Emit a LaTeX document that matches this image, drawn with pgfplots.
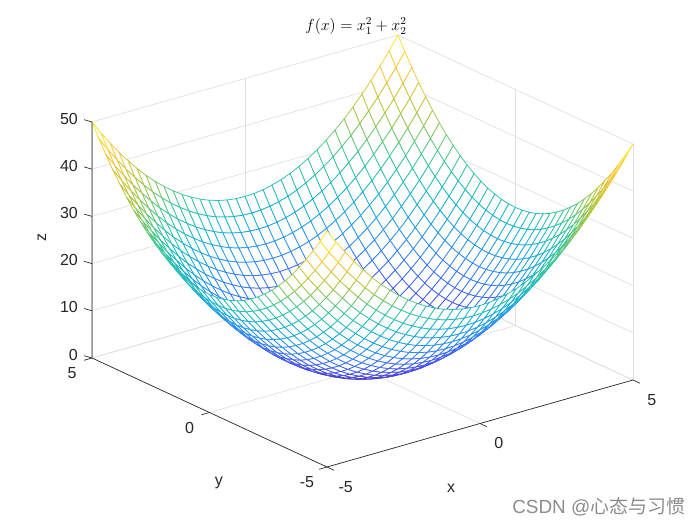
\documentclass[border=0pt]{standalone}
\usepackage{pgfplots}
\pgfplotsset{compat=1.18}
\usepackage{fontspec}
\setmainfont{Liberation Sans}
\newfontfamily\cjk{Noto Sans CJK SC}
\definecolor{axisgray}{RGB}{38,38,38}
\pgfplotsset{
  colormap={parula}{
    rgb=(0.2422,0.1504,0.6603) rgb=(0.2810,0.3228,0.9579) rgb=(0.1786,0.5289,0.9682)
    rgb=(0.0689,0.6948,0.8394) rgb=(0.2161,0.7843,0.5923) rgb=(0.6720,0.7793,0.2227)
    rgb=(0.9970,0.7659,0.2199) rgb=(0.9769,0.9839,0.0805)
  }
}
\begin{document}
\begin{tikzpicture}
\path[use as bounding box] (0,0) rectangle (525pt,393.75pt);
\begin{axis}[
  at={(271.875pt,117pt)}, anchor=origin,
  x={(22.95pt,6.525pt)}, y={(-17.625pt,8.175pt)}, z={(0pt,3.54pt)},
  xmin=-5, xmax=5, ymin=-5, ymax=5, zmin=0, zmax=50,
  xtick={-5,0,5}, ytick={-5,0,5}, ztick={0,10,20,30,40,50},
  clip=false,
  grid=major, grid style={gray!25, line width=0.5pt},
  axis line style={draw=none},
  tick align=outside, tick pos=left,
  tick style={draw=none},
  /pgf/number format/assume math mode=true,
  tick label style={font=\fontsize{12}{14}\selectfont, text=axisgray},
  xticklabel style={anchor=center, xshift=10.2pt, yshift=-13pt},
  yticklabel style={anchor=center, xshift=-10.9pt, yshift=-10.15pt},
  zticklabel style={anchor=east, xshift=-3.2pt, yshift=0.75pt},
  xlabel={x}, ylabel={y}, zlabel={z},
  every axis x label/.style={at={(axis cs:0,-5,0)}, anchor=center, xshift=-21.75pt, yshift=-48.4pt, font=\fontsize{12}{14}\selectfont, text=axisgray},
  every axis y label/.style={at={(axis cs:-5,0,0)}, anchor=center, xshift=7.1pt, yshift=-52.9pt, font=\fontsize{12}{14}\selectfont, text=axisgray},
  every axis z label/.style={at={(axis cs:-5,5,25)}, anchor=center, rotate=90, xshift=1.5pt, yshift=37.5pt, font=\fontsize{12}{14}\selectfont, text=axisgray},
  title={$f(x)=x_1^2+x_2^2$},
  every axis title/.style={at={(axis cs:5,5,50)}, anchor=center, xshift=-31.5pt, yshift=6.75pt, font=\fontsize{11.9}{13}\selectfont},
  colormap name=parula,
]
\addplot3[surf, shader=flat, fill=white, draw=mapped color, z buffer=sort, line width=0.55pt, mesh/cols=35, point meta=z] table {
-5 -5 50
-4.71 -5 47.15
-4.41 -5 44.46
-4.12 -5 41.96
-3.82 -5 39.62
-3.53 -5 37.46
-3.24 -5 35.47
-2.94 -5 33.65
-2.65 -5 32.01
-2.35 -5 30.54
-2.06 -5 29.24
-1.76 -5 28.11
-1.47 -5 27.16
-1.18 -5 26.38
-.88 -5 25.78
-.59 -5 25.35
-.29 -5 25.09
0 -5 25
.29 -5 25.09
.59 -5 25.35
.88 -5 25.78
1.18 -5 26.38
1.47 -5 27.16
1.76 -5 28.11
2.06 -5 29.24
2.35 -5 30.54
2.65 -5 32.01
2.94 -5 33.65
3.24 -5 35.47
3.53 -5 37.46
3.82 -5 39.62
4.12 -5 41.96
4.41 -5 44.46
4.71 -5 47.15
5 -5 50
-5 -4.71 47.15
-4.71 -4.71 44.30
-4.41 -4.71 41.61
-4.12 -4.71 39.11
-3.82 -4.71 36.77
-3.53 -4.71 34.61
-3.24 -4.71 32.62
-2.94 -4.71 30.80
-2.65 -4.71 29.16
-2.35 -4.71 27.69
-2.06 -4.71 26.39
-1.76 -4.71 25.26
-1.47 -4.71 24.31
-1.18 -4.71 23.53
-.88 -4.71 22.93
-.59 -4.71 22.50
-.29 -4.71 22.24
0 -4.71 22.15
.29 -4.71 22.24
.59 -4.71 22.50
.88 -4.71 22.93
1.18 -4.71 23.53
1.47 -4.71 24.31
1.76 -4.71 25.26
2.06 -4.71 26.39
2.35 -4.71 27.69
2.65 -4.71 29.16
2.94 -4.71 30.80
3.24 -4.71 32.62
3.53 -4.71 34.61
3.82 -4.71 36.77
4.12 -4.71 39.11
4.41 -4.71 41.61
4.71 -4.71 44.30
5 -4.71 47.15
-5 -4.41 44.46
-4.71 -4.41 41.61
-4.41 -4.41 38.92
-4.12 -4.41 36.42
-3.82 -4.41 34.08
-3.53 -4.41 31.92
-3.24 -4.41 29.93
-2.94 -4.41 28.11
-2.65 -4.41 26.47
-2.35 -4.41 25.00
-2.06 -4.41 23.70
-1.76 -4.41 22.57
-1.47 -4.41 21.62
-1.18 -4.41 20.84
-.88 -4.41 20.24
-.59 -4.41 19.81
-.29 -4.41 19.55
0 -4.41 19.46
.29 -4.41 19.55
.59 -4.41 19.81
.88 -4.41 20.24
1.18 -4.41 20.84
1.47 -4.41 21.62
1.76 -4.41 22.57
2.06 -4.41 23.70
2.35 -4.41 25.00
2.65 -4.41 26.47
2.94 -4.41 28.11
3.24 -4.41 29.93
3.53 -4.41 31.92
3.82 -4.41 34.08
4.12 -4.41 36.42
4.41 -4.41 38.92
4.71 -4.41 41.61
5 -4.41 44.46
-5 -4.12 41.96
-4.71 -4.12 39.11
-4.41 -4.12 36.42
-4.12 -4.12 33.92
-3.82 -4.12 31.58
-3.53 -4.12 29.42
-3.24 -4.12 27.43
-2.94 -4.12 25.61
-2.65 -4.12 23.97
-2.35 -4.12 22.50
-2.06 -4.12 21.20
-1.76 -4.12 20.07
-1.47 -4.12 19.12
-1.18 -4.12 18.34
-.88 -4.12 17.74
-.59 -4.12 17.31
-.29 -4.12 17.05
0 -4.12 16.96
.29 -4.12 17.05
.59 -4.12 17.31
.88 -4.12 17.74
1.18 -4.12 18.34
1.47 -4.12 19.12
1.76 -4.12 20.07
2.06 -4.12 21.20
2.35 -4.12 22.50
2.65 -4.12 23.97
2.94 -4.12 25.61
3.24 -4.12 27.43
3.53 -4.12 29.42
3.82 -4.12 31.58
4.12 -4.12 33.92
4.41 -4.12 36.42
4.71 -4.12 39.11
5 -4.12 41.96
-5 -3.82 39.62
-4.71 -3.82 36.77
-4.41 -3.82 34.08
-4.12 -3.82 31.58
-3.82 -3.82 29.24
-3.53 -3.82 27.08
-3.24 -3.82 25.09
-2.94 -3.82 23.27
-2.65 -3.82 21.63
-2.35 -3.82 20.16
-2.06 -3.82 18.86
-1.76 -3.82 17.73
-1.47 -3.82 16.78
-1.18 -3.82 16.00
-.88 -3.82 15.40
-.59 -3.82 14.97
-.29 -3.82 14.71
0 -3.82 14.62
.29 -3.82 14.71
.59 -3.82 14.97
.88 -3.82 15.40
1.18 -3.82 16.00
1.47 -3.82 16.78
1.76 -3.82 17.73
2.06 -3.82 18.86
2.35 -3.82 20.16
2.65 -3.82 21.63
2.94 -3.82 23.27
3.24 -3.82 25.09
3.53 -3.82 27.08
3.82 -3.82 29.24
4.12 -3.82 31.58
4.41 -3.82 34.08
4.71 -3.82 36.77
5 -3.82 39.62
-5 -3.53 37.46
-4.71 -3.53 34.61
-4.41 -3.53 31.92
-4.12 -3.53 29.42
-3.82 -3.53 27.08
-3.53 -3.53 24.92
-3.24 -3.53 22.93
-2.94 -3.53 21.11
-2.65 -3.53 19.47
-2.35 -3.53 18.00
-2.06 -3.53 16.70
-1.76 -3.53 15.57
-1.47 -3.53 14.62
-1.18 -3.53 13.84
-.88 -3.53 13.24
-.59 -3.53 12.81
-.29 -3.53 12.55
0 -3.53 12.46
.29 -3.53 12.55
.59 -3.53 12.81
.88 -3.53 13.24
1.18 -3.53 13.84
1.47 -3.53 14.62
1.76 -3.53 15.57
2.06 -3.53 16.70
2.35 -3.53 18.00
2.65 -3.53 19.47
2.94 -3.53 21.11
3.24 -3.53 22.93
3.53 -3.53 24.92
3.82 -3.53 27.08
4.12 -3.53 29.42
4.41 -3.53 31.92
4.71 -3.53 34.61
5 -3.53 37.46
-5 -3.24 35.47
-4.71 -3.24 32.62
-4.41 -3.24 29.93
-4.12 -3.24 27.43
-3.82 -3.24 25.09
-3.53 -3.24 22.93
-3.24 -3.24 20.94
-2.94 -3.24 19.12
-2.65 -3.24 17.48
-2.35 -3.24 16.01
-2.06 -3.24 14.71
-1.76 -3.24 13.58
-1.47 -3.24 12.63
-1.18 -3.24 11.85
-.88 -3.24 11.25
-.59 -3.24 10.82
-.29 -3.24 10.56
0 -3.24 10.47
.29 -3.24 10.56
.59 -3.24 10.82
.88 -3.24 11.25
1.18 -3.24 11.85
1.47 -3.24 12.63
1.76 -3.24 13.58
2.06 -3.24 14.71
2.35 -3.24 16.01
2.65 -3.24 17.48
2.94 -3.24 19.12
3.24 -3.24 20.94
3.53 -3.24 22.93
3.82 -3.24 25.09
4.12 -3.24 27.43
4.41 -3.24 29.93
4.71 -3.24 32.62
5 -3.24 35.47
-5 -2.94 33.65
-4.71 -2.94 30.80
-4.41 -2.94 28.11
-4.12 -2.94 25.61
-3.82 -2.94 23.27
-3.53 -2.94 21.11
-3.24 -2.94 19.12
-2.94 -2.94 17.30
-2.65 -2.94 15.66
-2.35 -2.94 14.19
-2.06 -2.94 12.89
-1.76 -2.94 11.76
-1.47 -2.94 10.81
-1.18 -2.94 10.03
-.88 -2.94 9.43
-.59 -2.94 9.00
-.29 -2.94 8.74
0 -2.94 8.65
.29 -2.94 8.74
.59 -2.94 9.00
.88 -2.94 9.43
1.18 -2.94 10.03
1.47 -2.94 10.81
1.76 -2.94 11.76
2.06 -2.94 12.89
2.35 -2.94 14.19
2.65 -2.94 15.66
2.94 -2.94 17.30
3.24 -2.94 19.12
3.53 -2.94 21.11
3.82 -2.94 23.27
4.12 -2.94 25.61
4.41 -2.94 28.11
4.71 -2.94 30.80
5 -2.94 33.65
-5 -2.65 32.01
-4.71 -2.65 29.16
-4.41 -2.65 26.47
-4.12 -2.65 23.97
-3.82 -2.65 21.63
-3.53 -2.65 19.47
-3.24 -2.65 17.48
-2.94 -2.65 15.66
-2.65 -2.65 14.02
-2.35 -2.65 12.55
-2.06 -2.65 11.25
-1.76 -2.65 10.12
-1.47 -2.65 9.17
-1.18 -2.65 8.39
-.88 -2.65 7.79
-.59 -2.65 7.36
-.29 -2.65 7.10
0 -2.65 7.01
.29 -2.65 7.10
.59 -2.65 7.36
.88 -2.65 7.79
1.18 -2.65 8.39
1.47 -2.65 9.17
1.76 -2.65 10.12
2.06 -2.65 11.25
2.35 -2.65 12.55
2.65 -2.65 14.02
2.94 -2.65 15.66
3.24 -2.65 17.48
3.53 -2.65 19.47
3.82 -2.65 21.63
4.12 -2.65 23.97
4.41 -2.65 26.47
4.71 -2.65 29.16
5 -2.65 32.01
-5 -2.35 30.54
-4.71 -2.35 27.69
-4.41 -2.35 25.00
-4.12 -2.35 22.50
-3.82 -2.35 20.16
-3.53 -2.35 18.00
-3.24 -2.35 16.01
-2.94 -2.35 14.19
-2.65 -2.35 12.55
-2.35 -2.35 11.08
-2.06 -2.35 9.78
-1.76 -2.35 8.65
-1.47 -2.35 7.70
-1.18 -2.35 6.92
-.88 -2.35 6.32
-.59 -2.35 5.89
-.29 -2.35 5.63
0 -2.35 5.54
.29 -2.35 5.63
.59 -2.35 5.89
.88 -2.35 6.32
1.18 -2.35 6.92
1.47 -2.35 7.70
1.76 -2.35 8.65
2.06 -2.35 9.78
2.35 -2.35 11.08
2.65 -2.35 12.55
2.94 -2.35 14.19
3.24 -2.35 16.01
3.53 -2.35 18.00
3.82 -2.35 20.16
4.12 -2.35 22.50
4.41 -2.35 25.00
4.71 -2.35 27.69
5 -2.35 30.54
-5 -2.06 29.24
-4.71 -2.06 26.39
-4.41 -2.06 23.70
-4.12 -2.06 21.20
-3.82 -2.06 18.86
-3.53 -2.06 16.70
-3.24 -2.06 14.71
-2.94 -2.06 12.89
-2.65 -2.06 11.25
-2.35 -2.06 9.78
-2.06 -2.06 8.48
-1.76 -2.06 7.35
-1.47 -2.06 6.40
-1.18 -2.06 5.62
-.88 -2.06 5.02
-.59 -2.06 4.59
-.29 -2.06 4.33
0 -2.06 4.24
.29 -2.06 4.33
.59 -2.06 4.59
.88 -2.06 5.02
1.18 -2.06 5.62
1.47 -2.06 6.40
1.76 -2.06 7.35
2.06 -2.06 8.48
2.35 -2.06 9.78
2.65 -2.06 11.25
2.94 -2.06 12.89
3.24 -2.06 14.71
3.53 -2.06 16.70
3.82 -2.06 18.86
4.12 -2.06 21.20
4.41 -2.06 23.70
4.71 -2.06 26.39
5 -2.06 29.24
-5 -1.76 28.11
-4.71 -1.76 25.26
-4.41 -1.76 22.57
-4.12 -1.76 20.07
-3.82 -1.76 17.73
-3.53 -1.76 15.57
-3.24 -1.76 13.58
-2.94 -1.76 11.76
-2.65 -1.76 10.12
-2.35 -1.76 8.65
-2.06 -1.76 7.35
-1.76 -1.76 6.22
-1.47 -1.76 5.27
-1.18 -1.76 4.49
-.88 -1.76 3.89
-.59 -1.76 3.46
-.29 -1.76 3.20
0 -1.76 3.11
.29 -1.76 3.20
.59 -1.76 3.46
.88 -1.76 3.89
1.18 -1.76 4.49
1.47 -1.76 5.27
1.76 -1.76 6.22
2.06 -1.76 7.35
2.35 -1.76 8.65
2.65 -1.76 10.12
2.94 -1.76 11.76
3.24 -1.76 13.58
3.53 -1.76 15.57
3.82 -1.76 17.73
4.12 -1.76 20.07
4.41 -1.76 22.57
4.71 -1.76 25.26
5 -1.76 28.11
-5 -1.47 27.16
-4.71 -1.47 24.31
-4.41 -1.47 21.62
-4.12 -1.47 19.12
-3.82 -1.47 16.78
-3.53 -1.47 14.62
-3.24 -1.47 12.63
-2.94 -1.47 10.81
-2.65 -1.47 9.17
-2.35 -1.47 7.70
-2.06 -1.47 6.40
-1.76 -1.47 5.27
-1.47 -1.47 4.32
-1.18 -1.47 3.54
-.88 -1.47 2.94
-.59 -1.47 2.51
-.29 -1.47 2.25
0 -1.47 2.16
.29 -1.47 2.25
.59 -1.47 2.51
.88 -1.47 2.94
1.18 -1.47 3.54
1.47 -1.47 4.32
1.76 -1.47 5.27
2.06 -1.47 6.40
2.35 -1.47 7.70
2.65 -1.47 9.17
2.94 -1.47 10.81
3.24 -1.47 12.63
3.53 -1.47 14.62
3.82 -1.47 16.78
4.12 -1.47 19.12
4.41 -1.47 21.62
4.71 -1.47 24.31
5 -1.47 27.16
-5 -1.18 26.38
-4.71 -1.18 23.53
-4.41 -1.18 20.84
-4.12 -1.18 18.34
-3.82 -1.18 16.00
-3.53 -1.18 13.84
-3.24 -1.18 11.85
-2.94 -1.18 10.03
-2.65 -1.18 8.39
-2.35 -1.18 6.92
-2.06 -1.18 5.62
-1.76 -1.18 4.49
-1.47 -1.18 3.54
-1.18 -1.18 2.76
-.88 -1.18 2.16
-.59 -1.18 1.73
-.29 -1.18 1.47
0 -1.18 1.38
.29 -1.18 1.47
.59 -1.18 1.73
.88 -1.18 2.16
1.18 -1.18 2.76
1.47 -1.18 3.54
1.76 -1.18 4.49
2.06 -1.18 5.62
2.35 -1.18 6.92
2.65 -1.18 8.39
2.94 -1.18 10.03
3.24 -1.18 11.85
3.53 -1.18 13.84
3.82 -1.18 16.00
4.12 -1.18 18.34
4.41 -1.18 20.84
4.71 -1.18 23.53
5 -1.18 26.38
-5 -.88 25.78
-4.71 -.88 22.93
-4.41 -.88 20.24
-4.12 -.88 17.74
-3.82 -.88 15.40
-3.53 -.88 13.24
-3.24 -.88 11.25
-2.94 -.88 9.43
-2.65 -.88 7.79
-2.35 -.88 6.32
-2.06 -.88 5.02
-1.76 -.88 3.89
-1.47 -.88 2.94
-1.18 -.88 2.16
-.88 -.88 1.56
-.59 -.88 1.13
-.29 -.88 .87
0 -.88 .78
.29 -.88 .87
.59 -.88 1.13
.88 -.88 1.56
1.18 -.88 2.16
1.47 -.88 2.94
1.76 -.88 3.89
2.06 -.88 5.02
2.35 -.88 6.32
2.65 -.88 7.79
2.94 -.88 9.43
3.24 -.88 11.25
3.53 -.88 13.24
3.82 -.88 15.40
4.12 -.88 17.74
4.41 -.88 20.24
4.71 -.88 22.93
5 -.88 25.78
-5 -.59 25.35
-4.71 -.59 22.50
-4.41 -.59 19.81
-4.12 -.59 17.31
-3.82 -.59 14.97
-3.53 -.59 12.81
-3.24 -.59 10.82
-2.94 -.59 9.00
-2.65 -.59 7.36
-2.35 -.59 5.89
-2.06 -.59 4.59
-1.76 -.59 3.46
-1.47 -.59 2.51
-1.18 -.59 1.73
-.88 -.59 1.13
-.59 -.59 .70
-.29 -.59 .44
0 -.59 .35
.29 -.59 .44
.59 -.59 .70
.88 -.59 1.13
1.18 -.59 1.73
1.47 -.59 2.51
1.76 -.59 3.46
2.06 -.59 4.59
2.35 -.59 5.89
2.65 -.59 7.36
2.94 -.59 9.00
3.24 -.59 10.82
3.53 -.59 12.81
3.82 -.59 14.97
4.12 -.59 17.31
4.41 -.59 19.81
4.71 -.59 22.50
5 -.59 25.35
-5 -.29 25.09
-4.71 -.29 22.24
-4.41 -.29 19.55
-4.12 -.29 17.05
-3.82 -.29 14.71
-3.53 -.29 12.55
-3.24 -.29 10.56
-2.94 -.29 8.74
-2.65 -.29 7.10
-2.35 -.29 5.63
-2.06 -.29 4.33
-1.76 -.29 3.20
-1.47 -.29 2.25
-1.18 -.29 1.47
-.88 -.29 .87
-.59 -.29 .44
-.29 -.29 .18
0 -.29 .09
.29 -.29 .18
.59 -.29 .44
.88 -.29 .87
1.18 -.29 1.47
1.47 -.29 2.25
1.76 -.29 3.20
2.06 -.29 4.33
2.35 -.29 5.63
2.65 -.29 7.10
2.94 -.29 8.74
3.24 -.29 10.56
3.53 -.29 12.55
3.82 -.29 14.71
4.12 -.29 17.05
4.41 -.29 19.55
4.71 -.29 22.24
5 -.29 25.09
-5 0 25
-4.71 0 22.15
-4.41 0 19.46
-4.12 0 16.96
-3.82 0 14.62
-3.53 0 12.46
-3.24 0 10.47
-2.94 0 8.65
-2.65 0 7.01
-2.35 0 5.54
-2.06 0 4.24
-1.76 0 3.11
-1.47 0 2.16
-1.18 0 1.38
-.88 0 .78
-.59 0 .35
-.29 0 .09
0 0 0
.29 0 .09
.59 0 .35
.88 0 .78
1.18 0 1.38
1.47 0 2.16
1.76 0 3.11
2.06 0 4.24
2.35 0 5.54
2.65 0 7.01
2.94 0 8.65
3.24 0 10.47
3.53 0 12.46
3.82 0 14.62
4.12 0 16.96
4.41 0 19.46
4.71 0 22.15
5 0 25
-5 .29 25.09
-4.71 .29 22.24
-4.41 .29 19.55
-4.12 .29 17.05
-3.82 .29 14.71
-3.53 .29 12.55
-3.24 .29 10.56
-2.94 .29 8.74
-2.65 .29 7.10
-2.35 .29 5.63
-2.06 .29 4.33
-1.76 .29 3.20
-1.47 .29 2.25
-1.18 .29 1.47
-.88 .29 .87
-.59 .29 .44
-.29 .29 .18
0 .29 .09
.29 .29 .18
.59 .29 .44
.88 .29 .87
1.18 .29 1.47
1.47 .29 2.25
1.76 .29 3.20
2.06 .29 4.33
2.35 .29 5.63
2.65 .29 7.10
2.94 .29 8.74
3.24 .29 10.56
3.53 .29 12.55
3.82 .29 14.71
4.12 .29 17.05
4.41 .29 19.55
4.71 .29 22.24
5 .29 25.09
-5 .59 25.35
-4.71 .59 22.50
-4.41 .59 19.81
-4.12 .59 17.31
-3.82 .59 14.97
-3.53 .59 12.81
-3.24 .59 10.82
-2.94 .59 9.00
-2.65 .59 7.36
-2.35 .59 5.89
-2.06 .59 4.59
-1.76 .59 3.46
-1.47 .59 2.51
-1.18 .59 1.73
-.88 .59 1.13
-.59 .59 .70
-.29 .59 .44
0 .59 .35
.29 .59 .44
.59 .59 .70
.88 .59 1.13
1.18 .59 1.73
1.47 .59 2.51
1.76 .59 3.46
2.06 .59 4.59
2.35 .59 5.89
2.65 .59 7.36
2.94 .59 9.00
3.24 .59 10.82
3.53 .59 12.81
3.82 .59 14.97
4.12 .59 17.31
4.41 .59 19.81
4.71 .59 22.50
5 .59 25.35
-5 .88 25.78
-4.71 .88 22.93
-4.41 .88 20.24
-4.12 .88 17.74
-3.82 .88 15.40
-3.53 .88 13.24
-3.24 .88 11.25
-2.94 .88 9.43
-2.65 .88 7.79
-2.35 .88 6.32
-2.06 .88 5.02
-1.76 .88 3.89
-1.47 .88 2.94
-1.18 .88 2.16
-.88 .88 1.56
-.59 .88 1.13
-.29 .88 .87
0 .88 .78
.29 .88 .87
.59 .88 1.13
.88 .88 1.56
1.18 .88 2.16
1.47 .88 2.94
1.76 .88 3.89
2.06 .88 5.02
2.35 .88 6.32
2.65 .88 7.79
2.94 .88 9.43
3.24 .88 11.25
3.53 .88 13.24
3.82 .88 15.40
4.12 .88 17.74
4.41 .88 20.24
4.71 .88 22.93
5 .88 25.78
-5 1.18 26.38
-4.71 1.18 23.53
-4.41 1.18 20.84
-4.12 1.18 18.34
-3.82 1.18 16.00
-3.53 1.18 13.84
-3.24 1.18 11.85
-2.94 1.18 10.03
-2.65 1.18 8.39
-2.35 1.18 6.92
-2.06 1.18 5.62
-1.76 1.18 4.49
-1.47 1.18 3.54
-1.18 1.18 2.76
-.88 1.18 2.16
-.59 1.18 1.73
-.29 1.18 1.47
0 1.18 1.38
.29 1.18 1.47
.59 1.18 1.73
.88 1.18 2.16
1.18 1.18 2.76
1.47 1.18 3.54
1.76 1.18 4.49
2.06 1.18 5.62
2.35 1.18 6.92
2.65 1.18 8.39
2.94 1.18 10.03
3.24 1.18 11.85
3.53 1.18 13.84
3.82 1.18 16.00
4.12 1.18 18.34
4.41 1.18 20.84
4.71 1.18 23.53
5 1.18 26.38
-5 1.47 27.16
-4.71 1.47 24.31
-4.41 1.47 21.62
-4.12 1.47 19.12
-3.82 1.47 16.78
-3.53 1.47 14.62
-3.24 1.47 12.63
-2.94 1.47 10.81
-2.65 1.47 9.17
-2.35 1.47 7.70
-2.06 1.47 6.40
-1.76 1.47 5.27
-1.47 1.47 4.32
-1.18 1.47 3.54
-.88 1.47 2.94
-.59 1.47 2.51
-.29 1.47 2.25
0 1.47 2.16
.29 1.47 2.25
.59 1.47 2.51
.88 1.47 2.94
1.18 1.47 3.54
1.47 1.47 4.32
1.76 1.47 5.27
2.06 1.47 6.40
2.35 1.47 7.70
2.65 1.47 9.17
2.94 1.47 10.81
3.24 1.47 12.63
3.53 1.47 14.62
3.82 1.47 16.78
4.12 1.47 19.12
4.41 1.47 21.62
4.71 1.47 24.31
5 1.47 27.16
-5 1.76 28.11
-4.71 1.76 25.26
-4.41 1.76 22.57
-4.12 1.76 20.07
-3.82 1.76 17.73
-3.53 1.76 15.57
-3.24 1.76 13.58
-2.94 1.76 11.76
-2.65 1.76 10.12
-2.35 1.76 8.65
-2.06 1.76 7.35
-1.76 1.76 6.22
-1.47 1.76 5.27
-1.18 1.76 4.49
-.88 1.76 3.89
-.59 1.76 3.46
-.29 1.76 3.20
0 1.76 3.11
.29 1.76 3.20
.59 1.76 3.46
.88 1.76 3.89
1.18 1.76 4.49
1.47 1.76 5.27
1.76 1.76 6.22
2.06 1.76 7.35
2.35 1.76 8.65
2.65 1.76 10.12
2.94 1.76 11.76
3.24 1.76 13.58
3.53 1.76 15.57
3.82 1.76 17.73
4.12 1.76 20.07
4.41 1.76 22.57
4.71 1.76 25.26
5 1.76 28.11
-5 2.06 29.24
-4.71 2.06 26.39
-4.41 2.06 23.70
-4.12 2.06 21.20
-3.82 2.06 18.86
-3.53 2.06 16.70
-3.24 2.06 14.71
-2.94 2.06 12.89
-2.65 2.06 11.25
-2.35 2.06 9.78
-2.06 2.06 8.48
-1.76 2.06 7.35
-1.47 2.06 6.40
-1.18 2.06 5.62
-.88 2.06 5.02
-.59 2.06 4.59
-.29 2.06 4.33
0 2.06 4.24
.29 2.06 4.33
.59 2.06 4.59
.88 2.06 5.02
1.18 2.06 5.62
1.47 2.06 6.40
1.76 2.06 7.35
2.06 2.06 8.48
2.35 2.06 9.78
2.65 2.06 11.25
2.94 2.06 12.89
3.24 2.06 14.71
3.53 2.06 16.70
3.82 2.06 18.86
4.12 2.06 21.20
4.41 2.06 23.70
4.71 2.06 26.39
5 2.06 29.24
-5 2.35 30.54
-4.71 2.35 27.69
-4.41 2.35 25.00
-4.12 2.35 22.50
-3.82 2.35 20.16
-3.53 2.35 18.00
-3.24 2.35 16.01
-2.94 2.35 14.19
-2.65 2.35 12.55
-2.35 2.35 11.08
-2.06 2.35 9.78
-1.76 2.35 8.65
-1.47 2.35 7.70
-1.18 2.35 6.92
-.88 2.35 6.32
-.59 2.35 5.89
-.29 2.35 5.63
0 2.35 5.54
.29 2.35 5.63
.59 2.35 5.89
.88 2.35 6.32
1.18 2.35 6.92
1.47 2.35 7.70
1.76 2.35 8.65
2.06 2.35 9.78
2.35 2.35 11.08
2.65 2.35 12.55
2.94 2.35 14.19
3.24 2.35 16.01
3.53 2.35 18.00
3.82 2.35 20.16
4.12 2.35 22.50
4.41 2.35 25.00
4.71 2.35 27.69
5 2.35 30.54
-5 2.65 32.01
-4.71 2.65 29.16
-4.41 2.65 26.47
-4.12 2.65 23.97
-3.82 2.65 21.63
-3.53 2.65 19.47
-3.24 2.65 17.48
-2.94 2.65 15.66
-2.65 2.65 14.02
-2.35 2.65 12.55
-2.06 2.65 11.25
-1.76 2.65 10.12
-1.47 2.65 9.17
-1.18 2.65 8.39
-.88 2.65 7.79
-.59 2.65 7.36
-.29 2.65 7.10
0 2.65 7.01
.29 2.65 7.10
.59 2.65 7.36
.88 2.65 7.79
1.18 2.65 8.39
1.47 2.65 9.17
1.76 2.65 10.12
2.06 2.65 11.25
2.35 2.65 12.55
2.65 2.65 14.02
2.94 2.65 15.66
3.24 2.65 17.48
3.53 2.65 19.47
3.82 2.65 21.63
4.12 2.65 23.97
4.41 2.65 26.47
4.71 2.65 29.16
5 2.65 32.01
-5 2.94 33.65
-4.71 2.94 30.80
-4.41 2.94 28.11
-4.12 2.94 25.61
-3.82 2.94 23.27
-3.53 2.94 21.11
-3.24 2.94 19.12
-2.94 2.94 17.30
-2.65 2.94 15.66
-2.35 2.94 14.19
-2.06 2.94 12.89
-1.76 2.94 11.76
-1.47 2.94 10.81
-1.18 2.94 10.03
-.88 2.94 9.43
-.59 2.94 9.00
-.29 2.94 8.74
0 2.94 8.65
.29 2.94 8.74
.59 2.94 9.00
.88 2.94 9.43
1.18 2.94 10.03
1.47 2.94 10.81
1.76 2.94 11.76
2.06 2.94 12.89
2.35 2.94 14.19
2.65 2.94 15.66
2.94 2.94 17.30
3.24 2.94 19.12
3.53 2.94 21.11
3.82 2.94 23.27
4.12 2.94 25.61
4.41 2.94 28.11
4.71 2.94 30.80
5 2.94 33.65
-5 3.24 35.47
-4.71 3.24 32.62
-4.41 3.24 29.93
-4.12 3.24 27.43
-3.82 3.24 25.09
-3.53 3.24 22.93
-3.24 3.24 20.94
-2.94 3.24 19.12
-2.65 3.24 17.48
-2.35 3.24 16.01
-2.06 3.24 14.71
-1.76 3.24 13.58
-1.47 3.24 12.63
-1.18 3.24 11.85
-.88 3.24 11.25
-.59 3.24 10.82
-.29 3.24 10.56
0 3.24 10.47
.29 3.24 10.56
.59 3.24 10.82
.88 3.24 11.25
1.18 3.24 11.85
1.47 3.24 12.63
1.76 3.24 13.58
2.06 3.24 14.71
2.35 3.24 16.01
2.65 3.24 17.48
2.94 3.24 19.12
3.24 3.24 20.94
3.53 3.24 22.93
3.82 3.24 25.09
4.12 3.24 27.43
4.41 3.24 29.93
4.71 3.24 32.62
5 3.24 35.47
-5 3.53 37.46
-4.71 3.53 34.61
-4.41 3.53 31.92
-4.12 3.53 29.42
-3.82 3.53 27.08
-3.53 3.53 24.92
-3.24 3.53 22.93
-2.94 3.53 21.11
-2.65 3.53 19.47
-2.35 3.53 18.00
-2.06 3.53 16.70
-1.76 3.53 15.57
-1.47 3.53 14.62
-1.18 3.53 13.84
-.88 3.53 13.24
-.59 3.53 12.81
-.29 3.53 12.55
0 3.53 12.46
.29 3.53 12.55
.59 3.53 12.81
.88 3.53 13.24
1.18 3.53 13.84
1.47 3.53 14.62
1.76 3.53 15.57
2.06 3.53 16.70
2.35 3.53 18.00
2.65 3.53 19.47
2.94 3.53 21.11
3.24 3.53 22.93
3.53 3.53 24.92
3.82 3.53 27.08
4.12 3.53 29.42
4.41 3.53 31.92
4.71 3.53 34.61
5 3.53 37.46
-5 3.82 39.62
-4.71 3.82 36.77
-4.41 3.82 34.08
-4.12 3.82 31.58
-3.82 3.82 29.24
-3.53 3.82 27.08
-3.24 3.82 25.09
-2.94 3.82 23.27
-2.65 3.82 21.63
-2.35 3.82 20.16
-2.06 3.82 18.86
-1.76 3.82 17.73
-1.47 3.82 16.78
-1.18 3.82 16.00
-.88 3.82 15.40
-.59 3.82 14.97
-.29 3.82 14.71
0 3.82 14.62
.29 3.82 14.71
.59 3.82 14.97
.88 3.82 15.40
1.18 3.82 16.00
1.47 3.82 16.78
1.76 3.82 17.73
2.06 3.82 18.86
2.35 3.82 20.16
2.65 3.82 21.63
2.94 3.82 23.27
3.24 3.82 25.09
3.53 3.82 27.08
3.82 3.82 29.24
4.12 3.82 31.58
4.41 3.82 34.08
4.71 3.82 36.77
5 3.82 39.62
-5 4.12 41.96
-4.71 4.12 39.11
-4.41 4.12 36.42
-4.12 4.12 33.92
-3.82 4.12 31.58
-3.53 4.12 29.42
-3.24 4.12 27.43
-2.94 4.12 25.61
-2.65 4.12 23.97
-2.35 4.12 22.50
-2.06 4.12 21.20
-1.76 4.12 20.07
-1.47 4.12 19.12
-1.18 4.12 18.34
-.88 4.12 17.74
-.59 4.12 17.31
-.29 4.12 17.05
0 4.12 16.96
.29 4.12 17.05
.59 4.12 17.31
.88 4.12 17.74
1.18 4.12 18.34
1.47 4.12 19.12
1.76 4.12 20.07
2.06 4.12 21.20
2.35 4.12 22.50
2.65 4.12 23.97
2.94 4.12 25.61
3.24 4.12 27.43
3.53 4.12 29.42
3.82 4.12 31.58
4.12 4.12 33.92
4.41 4.12 36.42
4.71 4.12 39.11
5 4.12 41.96
-5 4.41 44.46
-4.71 4.41 41.61
-4.41 4.41 38.92
-4.12 4.41 36.42
-3.82 4.41 34.08
-3.53 4.41 31.92
-3.24 4.41 29.93
-2.94 4.41 28.11
-2.65 4.41 26.47
-2.35 4.41 25.00
-2.06 4.41 23.70
-1.76 4.41 22.57
-1.47 4.41 21.62
-1.18 4.41 20.84
-.88 4.41 20.24
-.59 4.41 19.81
-.29 4.41 19.55
0 4.41 19.46
.29 4.41 19.55
.59 4.41 19.81
.88 4.41 20.24
1.18 4.41 20.84
1.47 4.41 21.62
1.76 4.41 22.57
2.06 4.41 23.70
2.35 4.41 25.00
2.65 4.41 26.47
2.94 4.41 28.11
3.24 4.41 29.93
3.53 4.41 31.92
3.82 4.41 34.08
4.12 4.41 36.42
4.41 4.41 38.92
4.71 4.41 41.61
5 4.41 44.46
-5 4.71 47.15
-4.71 4.71 44.30
-4.41 4.71 41.61
-4.12 4.71 39.11
-3.82 4.71 36.77
-3.53 4.71 34.61
-3.24 4.71 32.62
-2.94 4.71 30.80
-2.65 4.71 29.16
-2.35 4.71 27.69
-2.06 4.71 26.39
-1.76 4.71 25.26
-1.47 4.71 24.31
-1.18 4.71 23.53
-.88 4.71 22.93
-.59 4.71 22.50
-.29 4.71 22.24
0 4.71 22.15
.29 4.71 22.24
.59 4.71 22.50
.88 4.71 22.93
1.18 4.71 23.53
1.47 4.71 24.31
1.76 4.71 25.26
2.06 4.71 26.39
2.35 4.71 27.69
2.65 4.71 29.16
2.94 4.71 30.80
3.24 4.71 32.62
3.53 4.71 34.61
3.82 4.71 36.77
4.12 4.71 39.11
4.41 4.71 41.61
4.71 4.71 44.30
5 4.71 47.15
-5 5 50
-4.71 5 47.15
-4.41 5 44.46
-4.12 5 41.96
-3.82 5 39.62
-3.53 5 37.46
-3.24 5 35.47
-2.94 5 33.65
-2.65 5 32.01
-2.35 5 30.54
-2.06 5 29.24
-1.76 5 28.11
-1.47 5 27.16
-1.18 5 26.38
-.88 5 25.78
-.59 5 25.35
-.29 5 25.09
0 5 25
.29 5 25.09
.59 5 25.35
.88 5 25.78
1.18 5 26.38
1.47 5 27.16
1.76 5 28.11
2.06 5 29.24
2.35 5 30.54
2.65 5 32.01
2.94 5 33.65
3.24 5 35.47
3.53 5 37.46
3.82 5 39.62
4.12 5 41.96
4.41 5 44.46
4.71 5 47.15
5 5 50
};
\draw[axisgray, line width=0.5pt] (axis cs:-5,-5,0) -- (axis cs:5,-5,0);
\draw[axisgray, line width=0.5pt] (axis cs:-5,-5,0) -- (axis cs:-5,5,0) -- (axis cs:-5,5,50);
\draw[axisgray, line width=0.5pt]
  (axis cs:-5,-5,0) -- (axis cs:-5,-5.3,0)
  (axis cs:0,-5,0) -- (axis cs:0,-5.3,0)
  (axis cs:5,-5,0) -- (axis cs:5,-5.3,0)
  (axis cs:-5,-5,0) -- (axis cs:-5.26,-5,0)
  (axis cs:-5,0,0) -- (axis cs:-5.26,0,0)
  (axis cs:-5,5,0) -- (axis cs:-5.26,5,0)
  (axis cs:-5,5,0) -- (axis cs:-5.06,5.26,0)
  (axis cs:-5,5,10) -- (axis cs:-5.06,5.26,10)
  (axis cs:-5,5,20) -- (axis cs:-5.06,5.26,20)
  (axis cs:-5,5,30) -- (axis cs:-5.06,5.26,30)
  (axis cs:-5,5,40) -- (axis cs:-5.06,5.26,40)
  (axis cs:-5,5,50) -- (axis cs:-5.06,5.26,50);
\end{axis}
\node[text=black!45, font=\fontsize{14.2}{16}\selectfont, anchor=center] at (449pt,14pt) {CSDN @{\cjk 心态与习惯}};
\end{tikzpicture}
\end{document}
